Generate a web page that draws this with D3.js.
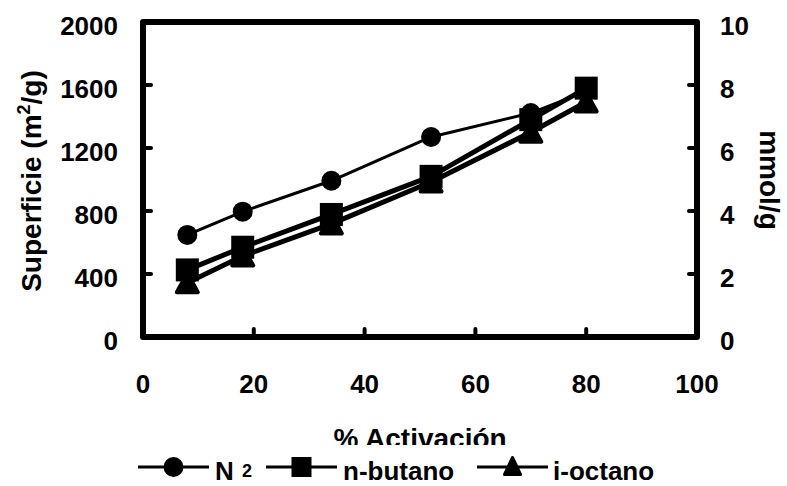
<!DOCTYPE html>
<html>
<head>
<meta charset="utf-8">
<script src="https://cdn.jsdelivr.net/npm/d3@7"></script>
<style>
  body { margin: 0; background: #fff; }
  text { font-family: Arial, "Liberation Sans", sans-serif; font-weight: bold; fill: #000; }
</style>
</head>
<body>
<script>
// data
const activacion = [8, 18, 34, 52, 70, 80];
const n2 = [648, 796, 992, 1270, 1422, 1560];        // m2/g, left axis
const nButano = [2.13, 2.85, 3.89, 5.1, 6.9, 7.9];   // mmol/g, right axis
const iOctano = [1.72, 2.57, 3.59, 4.92, 6.5, 7.46]; // mmol/g, right axis
const xTicks = [0, 20, 40, 60, 80, 100];
const yLeftTicks = [0, 400, 800, 1200, 1600, 2000];
const yRightTicks = [0, 2, 4, 6, 8, 10];

const W = 787, H = 486;
const pl = 143, pr = 697, pt = 22, pb = 337;

const svg = d3.select("body").append("svg")
  .attr("width", W).attr("height", H);

const x = d3.scaleLinear().domain([0, 100]).range([pl, pr]);
const yL = d3.scaleLinear().domain([0, 2000]).range([pb, pt]);
const yR = d3.scaleLinear().domain([0, 10]).range([pb, pt]);

// tick marks (inward)
const tickLen = 8;
svg.append("g").selectAll("line").data(xTicks.slice(1, -1)).enter().append("line")
  .attr("x1", d => x(d)).attr("x2", d => x(d))
  .attr("y1", pb).attr("y2", pb - tickLen)
  .attr("stroke", "#000").attr("stroke-width", 4).attr("stroke-linecap", "round");
svg.append("g").selectAll("line").data(yLeftTicks.slice(1, -1)).enter().append("line")
  .attr("x1", pl).attr("x2", pl + tickLen)
  .attr("y1", d => yL(d)).attr("y2", d => yL(d))
  .attr("stroke", "#000").attr("stroke-width", 4).attr("stroke-linecap", "round");
svg.append("g").selectAll("line").data(yRightTicks.slice(1, -1)).enter().append("line")
  .attr("x1", pr).attr("x2", pr - tickLen)
  .attr("y1", d => yR(d)).attr("y2", d => yR(d))
  .attr("stroke", "#000").attr("stroke-width", 4).attr("stroke-linecap", "round");

// frame
svg.append("rect")
  .attr("x", pl).attr("y", pt)
  .attr("width", pr - pl).attr("height", pb - pt)
  .attr("fill", "none").attr("stroke", "#000").attr("stroke-width", 6)
  .attr("stroke-linejoin", "round");

// tick labels
svg.append("g").selectAll("text").data(xTicks).enter().append("text")
  .attr("x", d => x(d)).attr("y", 393)
  .attr("text-anchor", "middle").style("font-size", "26px")
  .text(d => d);
svg.append("g").selectAll("text").data(yLeftTicks).enter().append("text")
  .attr("x", 118).attr("y", d => yL(d) + 13)
  .attr("text-anchor", "end").style("font-size", "26px")
  .text(d => d);
svg.append("g").selectAll("text").data(yRightTicks).enter().append("text")
  .attr("x", 720).attr("y", d => yR(d) + 13)
  .attr("text-anchor", "start").style("font-size", "26px")
  .text(d => d);

// axis titles
svg.append("clipPath").attr("id", "xclip")
  .append("rect").attr("x", 0).attr("y", 0).attr("width", W).attr("height", 445);
svg.append("text")
  .attr("x", (pl + pr) / 2).attr("y", 448)
  .attr("text-anchor", "middle").style("font-size", "28px")
  .attr("clip-path", "url(#xclip)")
  .text("% Activación");

const yt = svg.append("text")
  .attr("transform", "translate(41,181) rotate(-90)")
  .attr("text-anchor", "middle").style("font-size", "28px");
yt.append("tspan").text("Superficie (m");
yt.append("tspan").attr("dy", -11).style("font-size", "18px").text("2");
yt.append("tspan").attr("dy", 11).text("/g)");

svg.append("text")
  .attr("transform", "translate(760,180) rotate(90)")
  .attr("text-anchor", "middle").style("font-size", "28px")
  .text("mmol/g");

// series
const pts = (ys, scale) => activacion.map((a, i) => [x(a), scale(ys[i])]);
const line = d3.line();

function triPath(cx, cy, w, h) {
  return `M${cx},${cy - h / 2}L${cx + w / 2},${cy + h / 2}L${cx - w / 2},${cy + h / 2}Z`;
}

const series = [
  { name: "i-octano", p: pts(iOctano, yR), w: 5, mark: "tri" },
  { name: "n-butano", p: pts(nButano, yR), w: 5, mark: "sq" },
  { name: "N2", p: pts(n2, yL), w: 3, mark: "circ" }
];

series.forEach(s => {
  svg.append("path").attr("d", line(s.p))
    .attr("fill", "none").attr("stroke", "#000").attr("stroke-width", s.w)
    .attr("stroke-linejoin", "round");
});
series.forEach(s => {
  const g = svg.append("g");
  if (s.mark === "circ") {
    g.selectAll("circle").data(s.p).enter().append("circle")
      .attr("cx", d => d[0]).attr("cy", d => d[1]).attr("r", 10).attr("fill", "#000");
  } else if (s.mark === "sq") {
    g.selectAll("rect").data(s.p).enter().append("rect")
      .attr("x", d => d[0] - 11.5).attr("y", d => d[1] - 11.5)
      .attr("width", 23).attr("height", 23).attr("fill", "#000");
  } else {
    g.selectAll("path").data(s.p).enter().append("path")
      .attr("d", d => triPath(d[0], d[1], 21, 19))
      .attr("fill", "#000").attr("stroke", "#000").attr("stroke-width", 4)
      .attr("stroke-linejoin", "round");
  }
});

// legend
const ly = 467;
const leg = svg.append("g");
const legItems = [
  { x1: 138, x2: 209, mark: "circ", tx: 215 },
  { x1: 266, x2: 337, mark: "sq", tx: 343, label: "n-butano" },
  { x1: 477, x2: 548, mark: "tri", tx: 553, label: "i-octano" }
];
legItems.forEach(it => {
  const cx = (it.x1 + it.x2) / 2;
  leg.append("line").attr("x1", it.x1).attr("x2", it.x2)
    .attr("y1", ly).attr("y2", ly).attr("stroke", "#000").attr("stroke-width", 3);
  if (it.mark === "circ") {
    leg.append("circle").attr("cx", cx).attr("cy", ly).attr("r", 10);
  } else if (it.mark === "sq") {
    leg.append("rect").attr("x", cx - 10).attr("y", ly - 10).attr("width", 20).attr("height", 20);
  } else {
    leg.append("path").attr("d", triPath(cx, ly - 1, 16, 17))
      .attr("stroke", "#000").attr("stroke-width", 3).attr("stroke-linejoin", "round");
  }
  if (it.label) {
    leg.append("text").attr("x", it.tx).attr("y", 480).style("font-size", "26px").text(it.label);
  }
});
leg.append("text").attr("x", 215).attr("y", 480).style("font-size", "26px").text("N");
leg.append("text").attr("x", 242).attr("y", 477).style("font-size", "18px").text("2");
</script>
</body>
</html>
